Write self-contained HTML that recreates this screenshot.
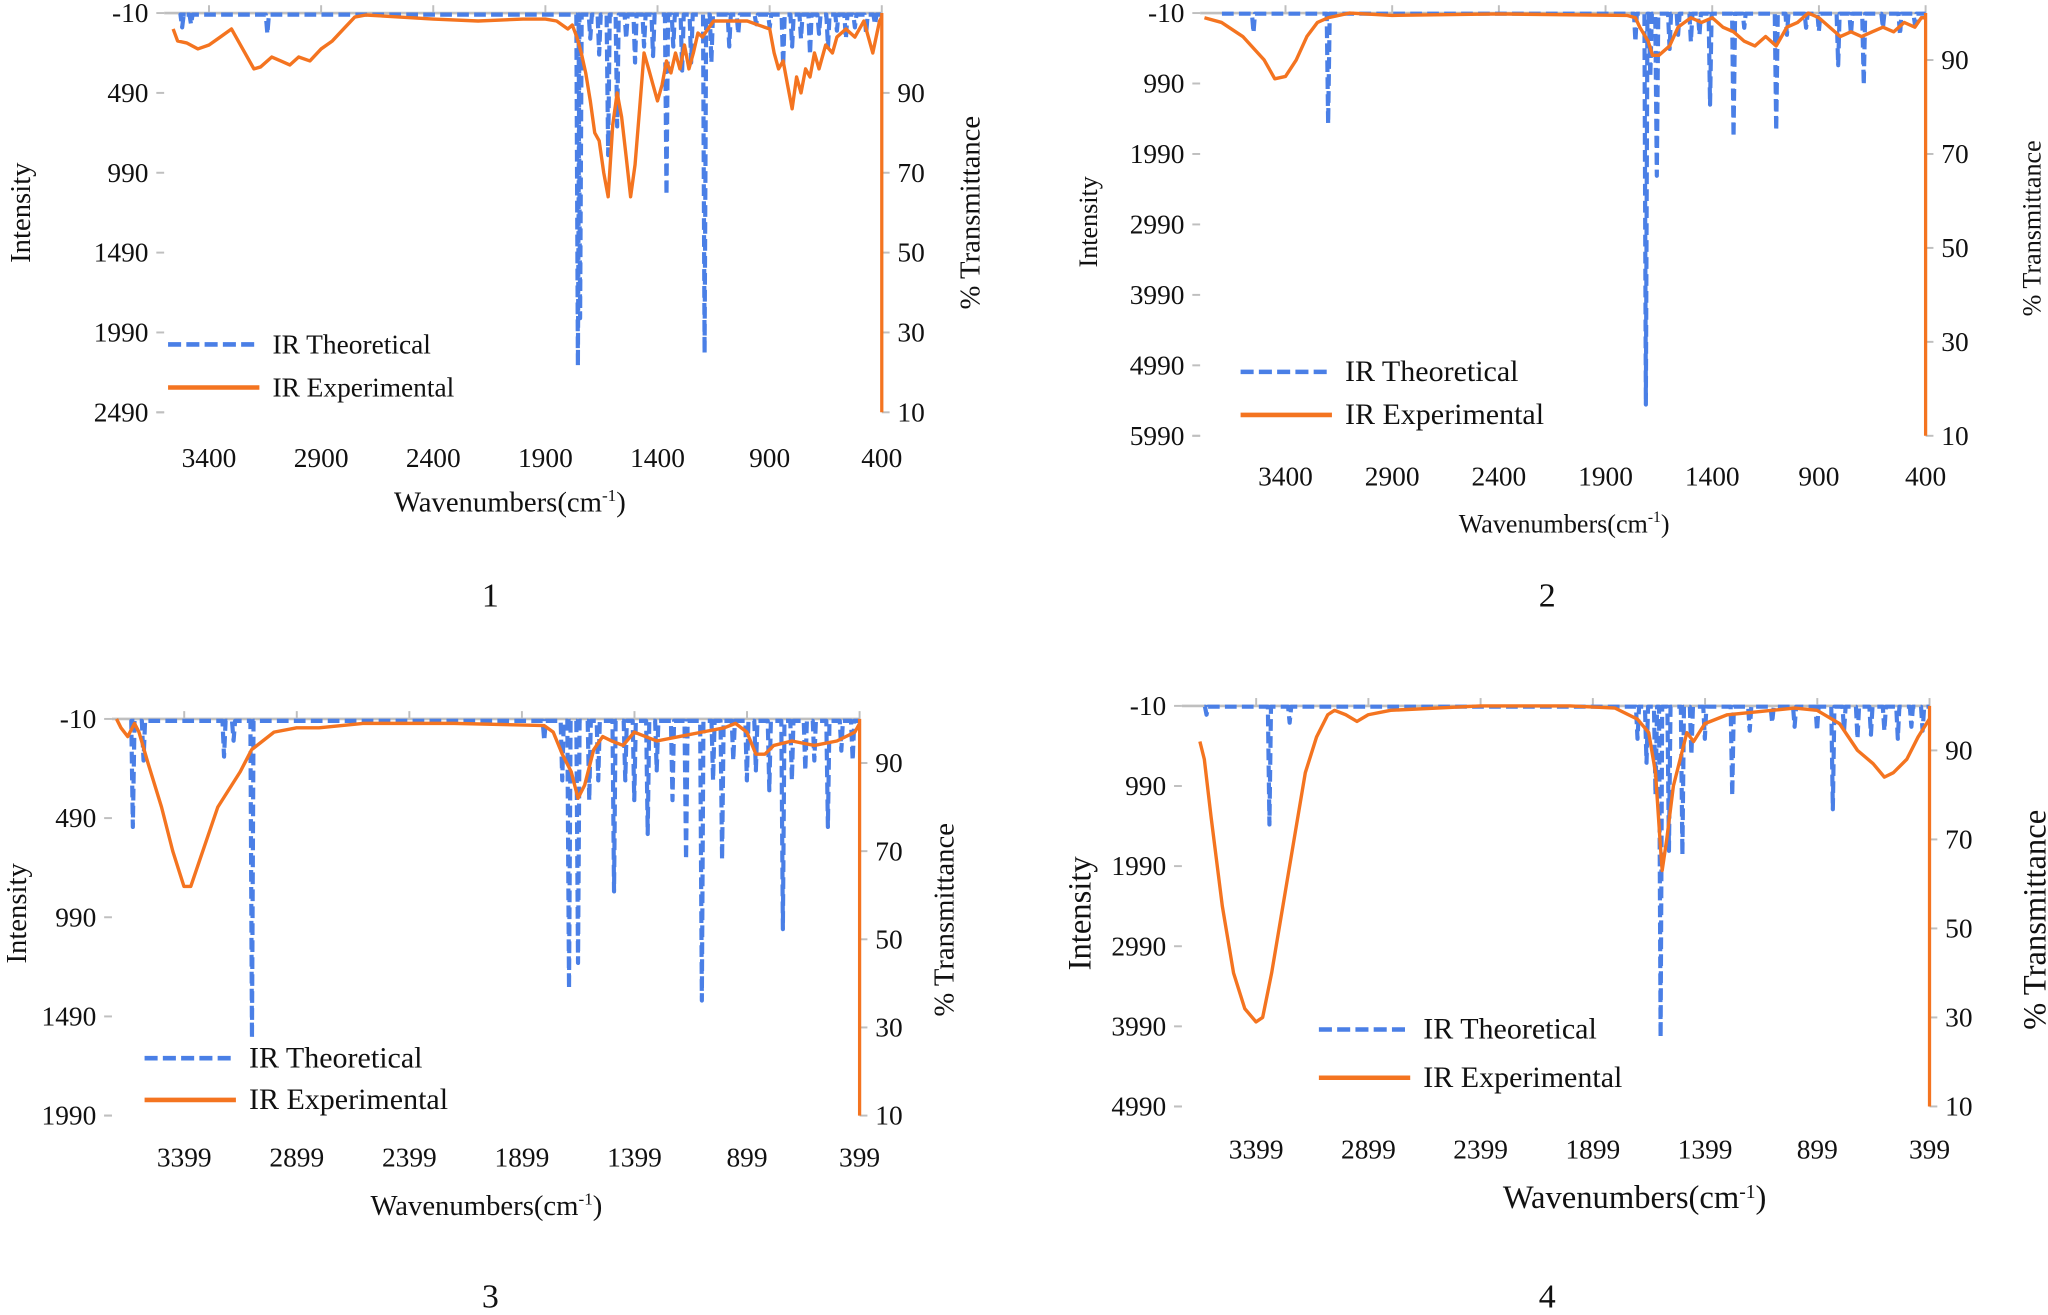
<!DOCTYPE html>
<html><head><meta charset="utf-8"><style>
html,body{margin:0;padding:0;background:#fff;}
svg, svg text{font-family:"Liberation Serif","Times New Roman",serif;}
</style></head><body>
<svg id="svg" width="2048" height="1310" viewBox="0 0 1568 1004" xmlns="http://www.w3.org/2000/svg" font-family="Liberation Serif, serif"></svg>
<script>
// ---------- Chart 1 data ----------
const c1TheoWave=[3520,3480,3140,1755,1745,1700,1660,1620,1580,1540,1500,1460,1420,1360,1330,1290,1250,1190,1160,1080,1040,960,900,840,800,760,720,680,640,600,560,520,470,430];
const c1TheoInt=[80,60,120,2200,1900,150,250,880,700,150,300,200,260,1130,200,350,300,2120,300,200,120,60,80,320,200,150,250,120,200,100,150,80,120,60];
const c1ExpWave=[3560,3540,3500,3450,3400,3350,3300,3250,3200,3170,3120,3080,3040,3000,2950,2900,2850,2800,2750,2700,2400,2200,2000,1900,1850,1800,1780,1760,1740,1720,1700,1680,1660,1640,1620,1600,1580,1560,1540,1520,1500,1480,1460,1440,1420,1400,1380,1360,1340,1320,1300,1280,1260,1240,1220,1200,1150,1100,1000,950,900,880,860,840,820,800,780,760,740,720,700,680,650,620,600,560,520,480,440,410,400];
const c1ExpT=[106,103,102.5,101,102,104,106,101,96,96.5,99,98,97,99,98,101,103,106,109,109.5,108.5,108,108.5,108.5,108,106,107,104,100,95,88,80,78,70,64,82,90,84,74,64,72,86,100,96,92,88,92,98,95,100,96,102,96,100,105,104,108,108,108,107,106,100,96,98,92,86,94,90,96,94,100,96,102,100,104,106,104,108,100,108,109];
// ---------- Chart 2 data ----------
const c2TheoWave=[3550,3200,1760,1711,1690,1660,1600,1560,1500,1460,1410,1300,1250,1100,1050,960,900,810,750,690,600,520,450];
const c2TheoInt=[270,1564,400,5545,900,2300,500,300,400,300,1290,1750,200,1660,300,200,250,730,300,1010,200,300,150];
const c2ExpWave=[3780,3700,3600,3500,3450,3400,3350,3300,3250,3200,3100,2900,2400,1800,1760,1740,1700,1680,1650,1600,1560,1500,1450,1400,1350,1300,1250,1200,1150,1100,1050,1000,950,900,850,800,750,700,650,600,550,500,450,420,400];
const c2ExpT=[99,98,95,90,86,86.5,90,95,98,99,100,99.5,99.8,99.5,99,97,94,91,91,93,97,99,98,99,97,96,94,93,95,93,97,98,100,99,97,95,96,95,96,97,96,98,97,99,99];
// ---------- Chart 3 data ----------
const c3TheoWave=[3627,3580,3222,3180,3098,1800,1720,1690,1650,1600,1560,1490,1440,1400,1340,1300,1230,1170,1100,1050,1010,960,900,860,800,740,700,640,600,540,480,430];
const c3TheoInt=[535,200,180,100,1600,100,300,1350,1220,400,300,860,300,400,570,250,400,700,1410,300,700,200,300,250,350,1050,300,250,200,535,150,200];
const c3ExpWave=[3700,3680,3650,3620,3600,3560,3500,3450,3400,3370,3330,3250,3150,3100,3000,2900,2800,2600,2200,1800,1760,1720,1680,1650,1620,1580,1540,1500,1450,1400,1300,1200,1100,1000,950,900,860,820,780,700,600,500,420,399];
const c3ExpT=[100,98,96,99,97,90,80,70,62,62,68,80,88,93,97,98,98,99,99,98.5,97,92,88,82,85,93,96,95,94,97,95,96,97,98,99,97,92,92,94,95,94,95,97,99];
// ---------- Chart 4 data ----------
const c4TheoWave=[3620,3340,3250,1700,1660,1620,1597,1560,1500,1460,1400,1278,1200,1100,1000,900,830,780,720,660,600,540,480,430];
const c4TheoInt=[100,1470,200,400,700,1100,4130,1800,1850,600,400,1110,300,200,250,300,1280,300,400,350,300,400,250,300];
const c4ExpWave=[3650,3630,3600,3550,3500,3450,3400,3370,3330,3280,3230,3180,3130,3080,3050,3000,2950,2900,2800,2400,2000,1800,1700,1650,1620,1600,1590,1570,1540,1500,1480,1450,1400,1300,1100,1000,900,800,720,650,600,560,500,450,400];
const c4ExpT=[92,88,75,55,40,32,29,30,40,55,70,85,93,98,99,98,96.5,98,99,100,100,99.5,97,94,85,70,63,70,82,90,94,92,96,98,99,99.5,99,96,90,87,84,85,88,93,97];
// ---------- tick labels ----------
const c1YTicks=[-10,490,990,1490,1990,2490];
const c2YTicks=[-10,990,1990,2990,3990,4990,5990];
const c3YTicks=[-10,490,990,1490,1990];
const c4YTicks=[-10,990,1990,2990,3990,4990];
const c1XTicks=[3400,2900,2400,1900,1400,900,400];
const c2XTicks=[3400,2900,2400,1900,1400,900,400];
const c3XTicks=[3399,2899,2399,1899,1399,899,399];
const c4XTicks=[3399,2899,2399,1899,1399,899,399];
const c1RTicks=[10,30,50,70,90];
const c2RTicks=[10,30,50,70,90];
const c3RTicks=[10,30,50,70,90];
const c4RTicks=[10,30,50,70,90];

const NS="http://www.w3.org/2000/svg";
const FONT='"Liberation Serif", "Times New Roman", serif';
const svg=document.getElementById('svg');
function mk(tag,attrs,parent){const e=document.createElementNS(NS,tag);for(const k in attrs)e.setAttribute(k,attrs[k]);if(tag==='text')e.style.fontFamily=FONT;(parent||svg).appendChild(e);return e;}

function chart(id,cfg){
  const g=mk('g',{});
  
  
  const L=cfg.left,R=cfg.right,T=cfg.top,B=cfg.bottom;
  const xs=w=>L+(cfg.wmax-w)/(cfg.wmax-cfg.wmin)*(R-L);
  const yl=v=>T+(v-cfg.ymin)/(cfg.ymax-cfg.ymin)*(B-T);
  const yr=v=>B-(v-cfg.rmin)/(cfg.rmax-cfg.rmin)*(B-T);
  const ax=mk('line',{x1:L,y1:T,x2:R,y2:T,stroke:'#bfbfbf','stroke-width':2},g);
  
  const bl=mk('line',{x1:L-6,y1:B,x2:L,y2:B,stroke:'#bfbfbf','stroke-width':1.5},g);
  
  cfg.xticks.forEach(t=>{
    const x=xs(t);
    const tk=mk('line',{x1:x,y1:T,x2:x,y2:T-6,stroke:'#bfbfbf','stroke-width':1.5},g);
    
    const tx=mk('text',{x:x,y:cfg.xLabY,'font-size':cfg.fs,'text-anchor':'middle',fill:'#111'},g);
    tx.textContent=t;
    
  });
  cfg.yticks.forEach(t=>{
    const y=yl(t);
    const tk=mk('line',{x1:L-6,y1:y,x2:L,y2:y,stroke:'#bfbfbf','stroke-width':1.5},g);
    
    const tx=mk('text',{x:L-12,y:y+7,'font-size':cfg.fs,'text-anchor':'end',fill:'#111'},g);
    tx.textContent=t;
    
  });
  cfg.rticks.forEach(t=>{
    const y=yr(t);
    const tk=mk('line',{x1:R,y1:y,x2:R+6,y2:y,stroke:'#bfbfbf','stroke-width':1.5},g);
    
    const tx=mk('text',{x:R+12,y:y+7,'font-size':cfg.fs,'text-anchor':'start',fill:'#111'},g);
    tx.textContent=t;
    
  });
  const pk=cfg.tw.map((w,i)=>[w,cfg.ti[i]]).sort((a,b)=>b[0]-a[0]);
  let pts=[[cfg.wmax-(cfg.wmax-cfg.wmin)*0.03,0]];
  pk.forEach(p=>{pts.push([p[0]+7,0],[p[0],p[1]],[p[0]-7,0]);});
  pts.push([cfg.wmin,0]);
  const th=mk('polyline',{points:pts.map(p=>xs(p[0]).toFixed(1)+','+yl(p[1]).toFixed(1)).join(' '),fill:'none',stroke:'#4a7fe6','stroke-width':3.2,'stroke-dasharray':'9,4','stroke-linejoin':'round'},g);
  
  const ex=mk('polyline',{points:cfg.ew.map((w,i)=>xs(w).toFixed(1)+','+yr(cfg.et[i]).toFixed(1)).join(' '),fill:'none',stroke:'#f47420','stroke-width':2.6,'stroke-linejoin':'round'},g);
  
  const ra=mk('line',{x1:R,y1:T,x2:R,y2:B,stroke:'#f47420','stroke-width':2.5},g);
  
  const lg=mk('g',{},g);
  
  const l1=mk('line',{x1:cfg.lgx,y1:cfg.lgy1,x2:cfg.lgx+70,y2:cfg.lgy1,stroke:'#4a7fe6','stroke-width':3.5,'stroke-dasharray':'10,4'},lg);
  
  const t1=mk('text',{x:cfg.lgx+80,y:cfg.lgy1+7,'font-size':cfg.lfs,fill:'#111'},lg);t1.textContent='IR Theoretical';
  
  const l2=mk('line',{x1:cfg.lgx,y1:cfg.lgy2,x2:cfg.lgx+70,y2:cfg.lgy2,stroke:'#f47420','stroke-width':3.5},lg);
  
  const t2=mk('text',{x:cfg.lgx+80,y:cfg.lgy2+7,'font-size':cfg.lfs,fill:'#111'},lg);t2.textContent='IR Experimental';
  
  const xt=mk('text',{x:cfg.xtx,y:cfg.xty,'font-size':cfg.tfs,'text-anchor':'middle',fill:'#111'},g);
  xt.innerHTML='Wavenumbers(cm<tspan dy="-8" font-size="'+(cfg.tfs*0.6)+'">-1</tspan><tspan dy="8">)</tspan>';
  
  const it=mk('text',{x:0,y:0,'font-size':cfg.tfs,'text-anchor':'middle',fill:'#111',transform:'translate('+cfg.itx+','+cfg.ity+') rotate(-90)'},g);
  it.textContent='Intensity';
  
  const rt=mk('text',{x:0,y:0,'font-size':cfg.tfs,'text-anchor':'middle',fill:'#111',transform:'translate('+cfg.rtx+','+cfg.rty+') rotate(-90)'},g);
  rt.textContent='% Transmittance';
  
  const nm=mk('text',{x:cfg.nx,y:cfg.ny,'font-size':26,'text-anchor':'middle',fill:'#111'},g);
  nm.textContent=id;
  
}
chart('1',{left:125,right:675,top:10,bottom:316,wmax:3600,wmin:400,ymin:-10,ymax:2490,rmin:10,rmax:110,
  xticks:c1XTicks,yticks:c1YTicks,rticks:c1RTicks,tw:c1TheoWave,ti:c1TheoInt,ew:c1ExpWave,et:c1ExpT,
  fs:21,lfs:21,tfs:22,xLabY:358,lgx:128,lgy1:264,lgy2:297,xtx:390,xty:392,itx:22,ity:163,rtx:750,rty:163,nx:375,ny:465});
chart('2',{left:919,right:1475,top:10,bottom:334,wmax:3800,wmin:400,ymin:-10,ymax:5990,rmin:10,rmax:100,
  xticks:c2XTicks,yticks:c2YTicks,rticks:c2RTicks,tw:c2TheoWave,ti:c2TheoInt,ew:c2ExpWave,et:c2ExpT,
  fs:21,lfs:23,tfs:20,xLabY:372,lgx:950,lgy1:285,lgy2:318,xtx:1198,xty:408,itx:840,ity:170,rtx:1563,rty:175,nx:1185,ny:465});
chart('3',{left:85,right:658,top:551,bottom:855,wmax:3720,wmin:399,ymin:-10,ymax:1990,rmin:10,rmax:100,
  xticks:c3XTicks,yticks:c3YTicks,rticks:c3RTicks,tw:c3TheoWave,ti:c3TheoInt,ew:c3ExpWave,et:c3ExpT,
  fs:21,lfs:23,tfs:22,xLabY:894,lgx:110,lgy1:811,lgy2:843,xtx:372,xty:931,itx:19,ity:700,rtx:730,rty:705,nx:375,ny:1002});
chart('4',{left:905,right:1478,top:541,bottom:848,wmax:3730,wmin:399,ymin:-10,ymax:4990,rmin:10,rmax:100,
  xticks:c4XTicks,yticks:c4YTicks,rticks:c4RTicks,tw:c4TheoWave,ti:c4TheoInt,ew:c4ExpWave,et:c4ExpT,
  fs:21,lfs:23,tfs:25,xLabY:888,lgx:1010,lgy1:789,lgy2:826,xtx:1252,xty:926,itx:835,ity:700,rtx:1567,rty:705,nx:1185,ny:1002});
</script>
</body></html>
